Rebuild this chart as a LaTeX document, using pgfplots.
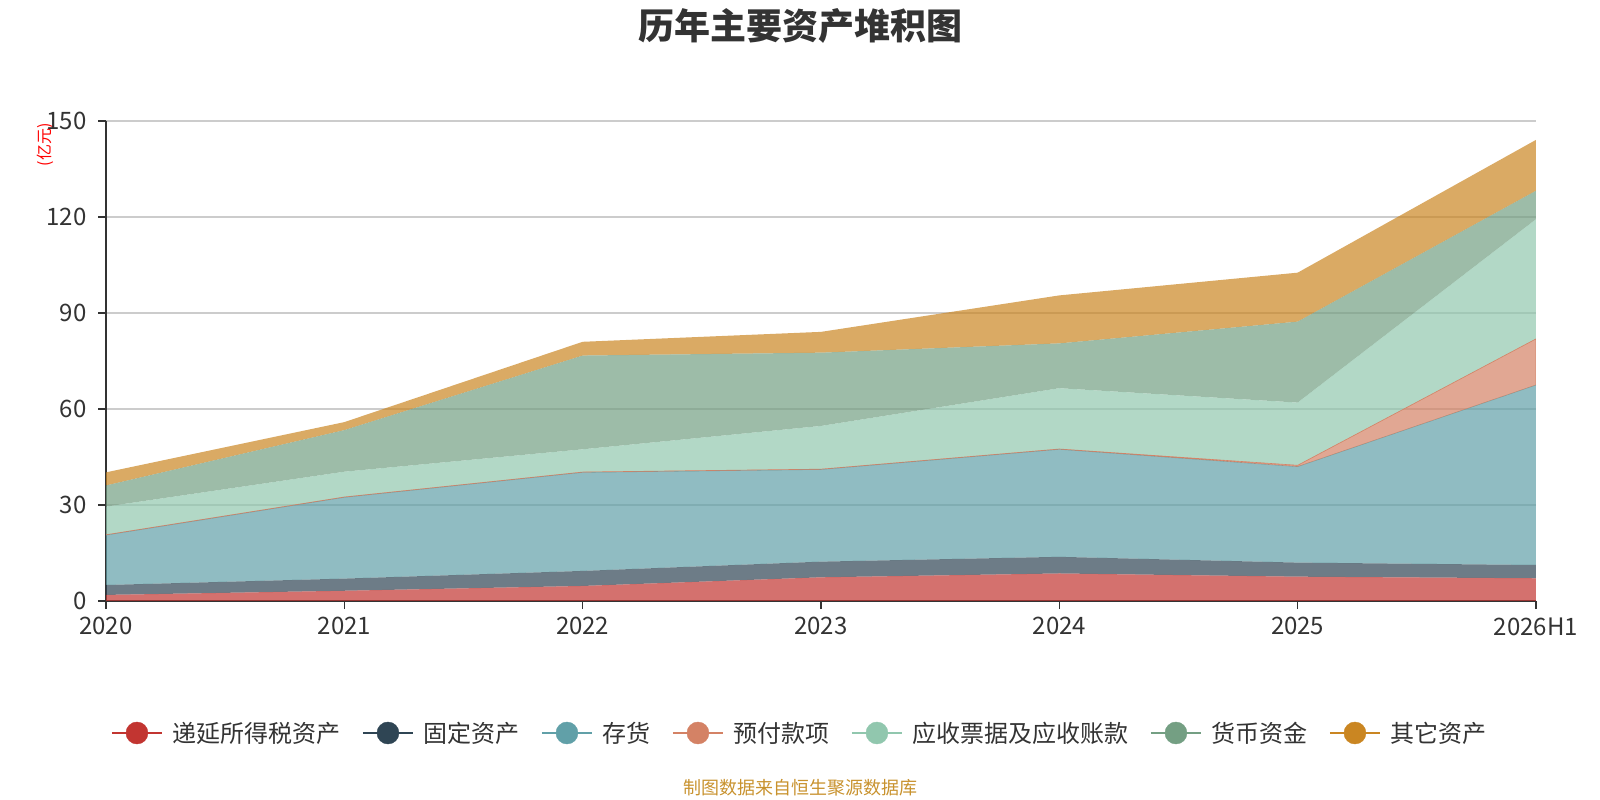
\documentclass[border=0pt]{standalone}
\usepackage{pgfplots}
\pgfplotsset{compat=1.18}
\usepackage{fontspec}
\setmainfont{Noto Sans CJK SC}
\definecolor{c1}{HTML}{C23531}
\definecolor{c2}{HTML}{2F4554}
\definecolor{c3}{HTML}{61A0A8}
\definecolor{c4}{HTML}{D48265}
\definecolor{c5}{HTML}{91C7AE}
\definecolor{c6}{HTML}{749F83}
\definecolor{c7}{HTML}{CA8622}
\definecolor{txt}{HTML}{333333}
\definecolor{gridc}{HTML}{CCCCCC}
\definecolor{src}{HTML}{C8922E}
\newcommand{\legimg}[1]{\addlegendimage{legend image code/.code={\draw[#1,line width=2pt] (0pt,0pt)--(50pt,0pt); \fill[#1] (25pt,0pt) circle (11pt);}}}
\begin{document}
\begin{tikzpicture}[x=1pt,y=1pt]
\path[use as bounding box] (0,0) rectangle (1600,800);
\node[font=\fontsize{36}{40}\selectfont\bfseries, text=txt] at (800,774) {历年主要资产堆积图};
\node[font=\fontsize{16}{18}\selectfont, text=red, rotate=90] at (45,655) {(亿元)};
\node[font=\fontsize{18}{20}\selectfont, text=src] at (800,12) {制图数据来自恒生聚源数据库};
\begin{axis}[
  at={(106pt,199pt)}, anchor=south west,
  width=1430pt, height=480pt, scale only axis,
  xmin=0, xmax=6, ymin=0, ymax=150,
  xtick={0,...,6}, xticklabels={2020,2021,2022,2023,2024,2025,2026H1},
  ytick={0,30,...,150},
  ymajorgrids, grid style={color=gridc, line width=1.2pt},
  axis x line*=bottom, axis y line*=left,
  axis line style={color=txt, line width=1.6pt},
  tick style={color=txt, line width=1.6pt},
  major tick length=8pt, tick align=outside,
  ticklabel style={font=\fontsize{24}{28}\selectfont, text=txt},
  yticklabel style={xshift=-8pt},
  xticklabel style={yshift=-5pt},
  /pgf/number format/assume math mode=true,
  stack plots=y,
  legend style={at={(0.4853,-0.275)}, anchor=center, draw=none, fill=none,
    legend columns=-1, font=\fontsize{24}{28}\selectfont, text=txt,
    /tikz/every odd column/.append style={column sep=8pt},
    /tikz/every even column/.append style={column sep=19pt}},
]
\legimg{c1}
\legimg{c2}
\legimg{c3}
\legimg{c4}
\legimg{c5}
\legimg{c6}
\legimg{c7}
\addplot[fill=c1, fill opacity=0.7, draw=none] coordinates {(0,1.9) (1,3.2) (2,4.7) (3,7.4) (4,8.6) (5,7.6) (6,7.1)} \closedcycle;
\addplot[fill=c2, fill opacity=0.7, draw=none] coordinates {(0,3.1) (1,3.8) (2,4.7) (3,4.9) (4,5.2) (5,4.4) (6,4.15)} \closedcycle;
\addplot[fill=c3, fill opacity=0.7, draw=none] coordinates {(0,15.6) (1,25.4) (2,30.8) (3,28.8) (4,33.6) (5,30.0) (6,56.25)} \closedcycle;
\addplot[fill=c4, fill opacity=0.7, draw=c4, line width=0.6pt] coordinates {(0,0.1) (1,0.1) (2,0.1) (3,0.1) (4,0.1) (5,0.4) (6,14.4)} \closedcycle;
\addplot[fill=c5, fill opacity=0.7, draw=none] coordinates {(0,8.8) (1,7.9) (2,7.1) (3,13.5) (4,19.0) (5,19.6) (6,37.4)} \closedcycle;
\addplot[fill=c6, fill opacity=0.7, draw=none] coordinates {(0,6.6) (1,13.0) (2,29.3) (3,22.9) (4,14.0) (5,25.3) (6,8.9)} \closedcycle;
\addplot[fill=c7, fill opacity=0.7, draw=none] coordinates {(0,4.1) (1,2.5) (2,4.3) (3,6.5) (4,15.0) (5,15.3) (6,15.9)} \closedcycle;
\legend{递延所得税资产,固定资产,存货,预付款项,应收票据及应收账款,货币资金,其它资产}
\end{axis}
\end{tikzpicture}
\end{document}
